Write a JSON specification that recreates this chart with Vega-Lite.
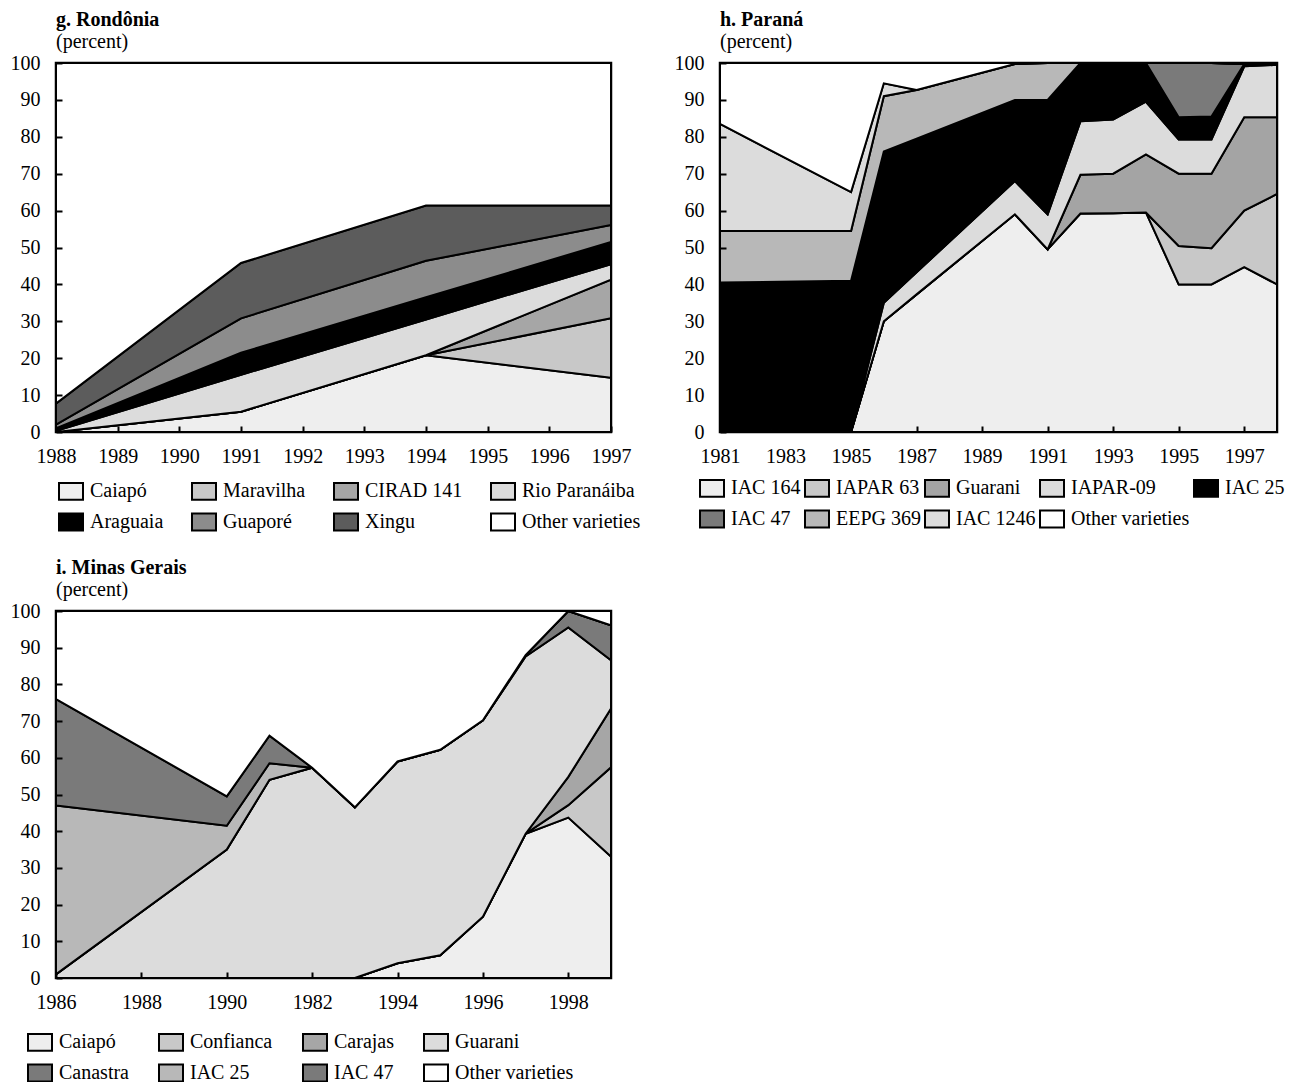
{
  "$schema": "https://vega.github.io/schema/vega-lite/v6.json",
  "padding": {"left": 8, "top": 8, "right": 0, "bottom": 0},
  "background": "white",
  "datasets": {
    "g": [
      {"t":1988,"v":"Caiapó","p":0,"o":1},{"t":1988,"v":"Maravilha","p":0,"o":2},{"t":1988,"v":"CIRAD 141","p":0,"o":3},{"t":1988,"v":"Rio Paranáiba","p":0.3,"o":4},{"t":1988,"v":"Araguaia","p":0.7,"o":5},{"t":1988,"v":"Guaporé","p":1,"o":6},{"t":1988,"v":"Xingu","p":5.7,"o":7},{"t":1988,"v":"Other varieties","p":92.3,"o":8},
      {"t":1991,"v":"Caiapó","p":5.5,"o":1},{"t":1991,"v":"Maravilha","p":0,"o":2},{"t":1991,"v":"CIRAD 141","p":0,"o":3},{"t":1991,"v":"Rio Paranáiba","p":10,"o":4},{"t":1991,"v":"Araguaia","p":6,"o":5},{"t":1991,"v":"Guaporé","p":9.3,"o":6},{"t":1991,"v":"Xingu","p":15,"o":7},{"t":1991,"v":"Other varieties","p":54.2,"o":8},
      {"t":1994,"v":"Caiapó","p":20.8,"o":1},{"t":1994,"v":"Maravilha","p":0,"o":2},{"t":1994,"v":"CIRAD 141","p":0,"o":3},{"t":1994,"v":"Rio Paranáiba","p":9.7,"o":4},{"t":1994,"v":"Araguaia","p":6,"o":5},{"t":1994,"v":"Guaporé","p":9.9,"o":6},{"t":1994,"v":"Xingu","p":15,"o":7},{"t":1994,"v":"Other varieties","p":38.6,"o":8},
      {"t":1997,"v":"Caiapó","p":14.7,"o":1},{"t":1997,"v":"Maravilha","p":16.1,"o":2},{"t":1997,"v":"CIRAD 141","p":10.5,"o":3},{"t":1997,"v":"Rio Paranáiba","p":4.2,"o":4},{"t":1997,"v":"Araguaia","p":6,"o":5},{"t":1997,"v":"Guaporé","p":4.6,"o":6},{"t":1997,"v":"Xingu","p":5.3,"o":7},{"t":1997,"v":"Other varieties","p":38.6,"o":8}
    ],
    "h": [
      {"t":1981,"v":"IAC 164","p":0,"o":1},{"t":1981,"v":"IAPAR 63","p":0,"o":2},{"t":1981,"v":"Guarani","p":0,"o":3},{"t":1981,"v":"IAPAR-09","p":0,"o":4},{"t":1981,"v":"IAC 25","p":40.5,"o":5},{"t":1981,"v":"IAC 47","p":0,"o":6},{"t":1981,"v":"EEPG 369","p":14,"o":7},{"t":1981,"v":"IAC 1246","p":29,"o":8},{"t":1981,"v":"Other varieties","p":16.5,"o":9},
      {"t":1985,"v":"IAC 164","p":0,"o":1},{"t":1985,"v":"IAPAR 63","p":0,"o":2},{"t":1985,"v":"Guarani","p":0,"o":3},{"t":1985,"v":"IAPAR-09","p":0,"o":4},{"t":1985,"v":"IAC 25","p":41,"o":5},{"t":1985,"v":"IAC 47","p":0,"o":6},{"t":1985,"v":"EEPG 369","p":13.5,"o":7},{"t":1985,"v":"IAC 1246","p":10.5,"o":8},{"t":1985,"v":"Other varieties","p":35,"o":9},
      {"t":1986,"v":"IAC 164","p":30,"o":1},{"t":1986,"v":"IAPAR 63","p":0,"o":2},{"t":1986,"v":"Guarani","p":0,"o":3},{"t":1986,"v":"IAPAR-09","p":5,"o":4},{"t":1986,"v":"IAC 25","p":41,"o":5},{"t":1986,"v":"IAC 47","p":0,"o":6},{"t":1986,"v":"EEPG 369","p":15,"o":7},{"t":1986,"v":"IAC 1246","p":3.5,"o":8},{"t":1986,"v":"Other varieties","p":5.5,"o":9},
      {"t":1987,"v":"IAC 164","p":37.3,"o":1},{"t":1987,"v":"IAPAR 63","p":0,"o":2},{"t":1987,"v":"Guarani","p":0,"o":3},{"t":1987,"v":"IAPAR-09","p":6,"o":4},{"t":1987,"v":"IAC 25","p":36.2,"o":5},{"t":1987,"v":"IAC 47","p":0,"o":6},{"t":1987,"v":"EEPG 369","p":13.2,"o":7},{"t":1987,"v":"IAC 1246","p":0,"o":8},{"t":1987,"v":"Other varieties","p":7.3,"o":9},
      {"t":1990,"v":"IAC 164","p":59,"o":1},{"t":1990,"v":"IAPAR 63","p":0,"o":2},{"t":1990,"v":"Guarani","p":0,"o":3},{"t":1990,"v":"IAPAR-09","p":9,"o":4},{"t":1990,"v":"IAC 25","p":22,"o":5},{"t":1990,"v":"IAC 47","p":0,"o":6},{"t":1990,"v":"EEPG 369","p":9.7,"o":7},{"t":1990,"v":"IAC 1246","p":0,"o":8},{"t":1990,"v":"Other varieties","p":0.3,"o":9},
      {"t":1991,"v":"IAC 164","p":49.5,"o":1},{"t":1991,"v":"IAPAR 63","p":0,"o":2},{"t":1991,"v":"Guarani","p":0,"o":3},{"t":1991,"v":"IAPAR-09","p":9.5,"o":4},{"t":1991,"v":"IAC 25","p":31,"o":5},{"t":1991,"v":"IAC 47","p":0,"o":6},{"t":1991,"v":"EEPG 369","p":10,"o":7},{"t":1991,"v":"IAC 1246","p":0,"o":8},{"t":1991,"v":"Other varieties","p":0,"o":9},
      {"t":1992,"v":"IAC 164","p":59.2,"o":1},{"t":1992,"v":"IAPAR 63","p":0,"o":2},{"t":1992,"v":"Guarani","p":10.5,"o":3},{"t":1992,"v":"IAPAR-09","p":14.5,"o":4},{"t":1992,"v":"IAC 25","p":15.8,"o":5},{"t":1992,"v":"IAC 47","p":0,"o":6},{"t":1992,"v":"EEPG 369","p":0,"o":7},{"t":1992,"v":"IAC 1246","p":0,"o":8},{"t":1992,"v":"Other varieties","p":0,"o":9},
      {"t":1993,"v":"IAC 164","p":59.3,"o":1},{"t":1993,"v":"IAPAR 63","p":0,"o":2},{"t":1993,"v":"Guarani","p":10.7,"o":3},{"t":1993,"v":"IAPAR-09","p":14.7,"o":4},{"t":1993,"v":"IAC 25","p":15.3,"o":5},{"t":1993,"v":"IAC 47","p":0,"o":6},{"t":1993,"v":"EEPG 369","p":0,"o":7},{"t":1993,"v":"IAC 1246","p":0,"o":8},{"t":1993,"v":"Other varieties","p":0,"o":9},
      {"t":1994,"v":"IAC 164","p":59.5,"o":1},{"t":1994,"v":"IAPAR 63","p":0,"o":2},{"t":1994,"v":"Guarani","p":15.7,"o":3},{"t":1994,"v":"IAPAR-09","p":14.3,"o":4},{"t":1994,"v":"IAC 25","p":10.5,"o":5},{"t":1994,"v":"IAC 47","p":0,"o":6},{"t":1994,"v":"EEPG 369","p":0,"o":7},{"t":1994,"v":"IAC 1246","p":0,"o":8},{"t":1994,"v":"Other varieties","p":0,"o":9},
      {"t":1995,"v":"IAC 164","p":40,"o":1},{"t":1995,"v":"IAPAR 63","p":10.4,"o":2},{"t":1995,"v":"Guarani","p":19.6,"o":3},{"t":1995,"v":"IAPAR-09","p":9.3,"o":4},{"t":1995,"v":"IAC 25","p":6,"o":5},{"t":1995,"v":"IAC 47","p":14.7,"o":6},{"t":1995,"v":"EEPG 369","p":0,"o":7},{"t":1995,"v":"IAC 1246","p":0,"o":8},{"t":1995,"v":"Other varieties","p":0,"o":9},
      {"t":1996,"v":"IAC 164","p":40,"o":1},{"t":1996,"v":"IAPAR 63","p":9.8,"o":2},{"t":1996,"v":"Guarani","p":20.2,"o":3},{"t":1996,"v":"IAPAR-09","p":9.3,"o":4},{"t":1996,"v":"IAC 25","p":6.2,"o":5},{"t":1996,"v":"IAC 47","p":14.5,"o":6},{"t":1996,"v":"EEPG 369","p":0,"o":7},{"t":1996,"v":"IAC 1246","p":0,"o":8},{"t":1996,"v":"Other varieties","p":0,"o":9},
      {"t":1997,"v":"IAC 164","p":44.7,"o":1},{"t":1997,"v":"IAPAR 63","p":15.3,"o":2},{"t":1997,"v":"Guarani","p":25.3,"o":3},{"t":1997,"v":"IAPAR-09","p":13.8,"o":4},{"t":1997,"v":"IAC 25","p":0.6,"o":5},{"t":1997,"v":"IAC 47","p":0,"o":6},{"t":1997,"v":"EEPG 369","p":0,"o":7},{"t":1997,"v":"IAC 1246","p":0,"o":8},{"t":1997,"v":"Other varieties","p":0.3,"o":9},
      {"t":1998,"v":"IAC 164","p":40,"o":1},{"t":1998,"v":"IAPAR 63","p":24.5,"o":2},{"t":1998,"v":"Guarani","p":20.8,"o":3},{"t":1998,"v":"IAPAR-09","p":14.2,"o":4},{"t":1998,"v":"IAC 25","p":0,"o":5},{"t":1998,"v":"IAC 47","p":0,"o":6},{"t":1998,"v":"EEPG 369","p":0,"o":7},{"t":1998,"v":"IAC 1246","p":0,"o":8},{"t":1998,"v":"Other varieties","p":0.5,"o":9}
    ],
    "i": [
      {"t":1986,"v":"Caiapó","p":0,"o":1},{"t":1986,"v":"Confianca","p":0,"o":2},{"t":1986,"v":"Carajas","p":0,"o":3},{"t":1986,"v":"Guarani","p":1,"o":4},{"t":1986,"v":"Canastra","p":0,"o":5},{"t":1986,"v":"IAC 25","p":46,"o":6},{"t":1986,"v":"IAC 47","p":29,"o":7},{"t":1986,"v":"Other varieties","p":24,"o":8},
      {"t":1990,"v":"Caiapó","p":0,"o":1},{"t":1990,"v":"Confianca","p":0,"o":2},{"t":1990,"v":"Carajas","p":0,"o":3},{"t":1990,"v":"Guarani","p":35,"o":4},{"t":1990,"v":"Canastra","p":0,"o":5},{"t":1990,"v":"IAC 25","p":6.5,"o":6},{"t":1990,"v":"IAC 47","p":8,"o":7},{"t":1990,"v":"Other varieties","p":50.5,"o":8},
      {"t":1991,"v":"Caiapó","p":0,"o":1},{"t":1991,"v":"Confianca","p":0,"o":2},{"t":1991,"v":"Carajas","p":0,"o":3},{"t":1991,"v":"Guarani","p":54,"o":4},{"t":1991,"v":"Canastra","p":0,"o":5},{"t":1991,"v":"IAC 25","p":4.5,"o":6},{"t":1991,"v":"IAC 47","p":7.5,"o":7},{"t":1991,"v":"Other varieties","p":34,"o":8},
      {"t":1992,"v":"Caiapó","p":0,"o":1},{"t":1992,"v":"Confianca","p":0,"o":2},{"t":1992,"v":"Carajas","p":0,"o":3},{"t":1992,"v":"Guarani","p":57.3,"o":4},{"t":1992,"v":"Canastra","p":0,"o":5},{"t":1992,"v":"IAC 25","p":0,"o":6},{"t":1992,"v":"IAC 47","p":0,"o":7},{"t":1992,"v":"Other varieties","p":42.7,"o":8},
      {"t":1993,"v":"Caiapó","p":0,"o":1},{"t":1993,"v":"Confianca","p":0,"o":2},{"t":1993,"v":"Carajas","p":0,"o":3},{"t":1993,"v":"Guarani","p":46.5,"o":4},{"t":1993,"v":"Canastra","p":0,"o":5},{"t":1993,"v":"IAC 25","p":0,"o":6},{"t":1993,"v":"IAC 47","p":0,"o":7},{"t":1993,"v":"Other varieties","p":53.5,"o":8},
      {"t":1994,"v":"Caiapó","p":4,"o":1},{"t":1994,"v":"Confianca","p":0,"o":2},{"t":1994,"v":"Carajas","p":0,"o":3},{"t":1994,"v":"Guarani","p":55,"o":4},{"t":1994,"v":"Canastra","p":0,"o":5},{"t":1994,"v":"IAC 25","p":0,"o":6},{"t":1994,"v":"IAC 47","p":0,"o":7},{"t":1994,"v":"Other varieties","p":41,"o":8},
      {"t":1995,"v":"Caiapó","p":6.2,"o":1},{"t":1995,"v":"Confianca","p":0,"o":2},{"t":1995,"v":"Carajas","p":0,"o":3},{"t":1995,"v":"Guarani","p":56,"o":4},{"t":1995,"v":"Canastra","p":0,"o":5},{"t":1995,"v":"IAC 25","p":0,"o":6},{"t":1995,"v":"IAC 47","p":0,"o":7},{"t":1995,"v":"Other varieties","p":37.8,"o":8},
      {"t":1996,"v":"Caiapó","p":16.7,"o":1},{"t":1996,"v":"Confianca","p":0,"o":2},{"t":1996,"v":"Carajas","p":0,"o":3},{"t":1996,"v":"Guarani","p":53.5,"o":4},{"t":1996,"v":"Canastra","p":0,"o":5},{"t":1996,"v":"IAC 25","p":0,"o":6},{"t":1996,"v":"IAC 47","p":0,"o":7},{"t":1996,"v":"Other varieties","p":29.8,"o":8},
      {"t":1997,"v":"Caiapó","p":39.3,"o":1},{"t":1997,"v":"Confianca","p":0,"o":2},{"t":1997,"v":"Carajas","p":0,"o":3},{"t":1997,"v":"Guarani","p":48.3,"o":4},{"t":1997,"v":"Canastra","p":0.4,"o":5},{"t":1997,"v":"IAC 25","p":0,"o":6},{"t":1997,"v":"IAC 47","p":0,"o":7},{"t":1997,"v":"Other varieties","p":12,"o":8},
      {"t":1998,"v":"Caiapó","p":43.7,"o":1},{"t":1998,"v":"Confianca","p":3.4,"o":2},{"t":1998,"v":"Carajas","p":7.7,"o":3},{"t":1998,"v":"Guarani","p":40.7,"o":4},{"t":1998,"v":"Canastra","p":4.5,"o":5},{"t":1998,"v":"IAC 25","p":0,"o":6},{"t":1998,"v":"IAC 47","p":0,"o":7},{"t":1998,"v":"Other varieties","p":0,"o":8},
      {"t":1999,"v":"Caiapó","p":33.1,"o":1},{"t":1999,"v":"Confianca","p":24.3,"o":2},{"t":1999,"v":"Carajas","p":16,"o":3},{"t":1999,"v":"Guarani","p":13.2,"o":4},{"t":1999,"v":"Canastra","p":9.5,"o":5},{"t":1999,"v":"IAC 25","p":0,"o":6},{"t":1999,"v":"IAC 47","p":0,"o":7},{"t":1999,"v":"Other varieties","p":3.9,"o":8}
    ]
  },
  "config": {
    "font": "Liberation Serif",
    "view": {"stroke": "black", "strokeWidth": 2.5},
    "axis": {"labelFont": "Liberation Serif", "labelFontSize": 20, "labelColor": "black", "domain": false, "ticks": true, "tickColor": "black", "tickWidth": 2, "tickSize": -6, "grid": false, "title": null, "labelFlush": false},
    "axisX": {"labelPadding": 20},
    "axisY": {"labelPadding": 22},
    "legend": {"labelFont": "Liberation Serif", "labelFontSize": 20, "labelColor": "black", "symbolType": "M-1,-0.7H1V0.7H-1Z", "symbolSize": 576, "symbolStrokeColor": "black", "symbolStrokeWidth": 2, "labelOffset": 6, "rowPadding": 5, "title": null, "orient": "none", "direction": "horizontal", "labelLimit": 300},
    "title": {"anchor": "start", "frame": "group", "font": "Liberation Serif", "fontSize": 20, "fontWeight": "bold", "color": "black", "subtitleFont": "Liberation Serif", "subtitleFontSize": 20, "subtitleColor": "black", "subtitlePadding": 2, "offset": 1}
  },
  "spacing": 19,
  "resolve": {"scale": {"color": "independent"}, "legend": {"color": "independent"}},
  "vconcat": [
    {
      "spacing": 29,
      "resolve": {"scale": {"color": "independent"}, "legend": {"color": "independent"}},
      "hconcat": [
        {
          "width": 555, "height": 369,
          "title": {"text": "g. Rondônia", "subtitle": "(percent)"},
          "data": {"name": "g"},
          "mark": {"type": "area", "stroke": "black", "strokeWidth": 2, "clip": true},
          "encoding": {
            "x": {"field": "t", "type": "quantitative", "scale": {"domain": [1988, 1997], "nice": false, "zero": false}, "axis": {"values": [1988,1989,1990,1991,1992,1993,1994,1995,1996,1997], "format": "d", "zindex": 1}},
            "y": {"field": "p", "type": "quantitative", "stack": "zero", "scale": {"domain": [0, 100], "nice": false}, "axis": {"values": [0,10,20,30,40,50,60,70,80,90,100], "zindex": 1}},
            "color": {"field": "v", "type": "nominal",
              "scale": {"domain": ["Caiapó","Maravilha","CIRAD 141","Rio Paranáiba","Araguaia","Guaporé","Xingu","Other varieties"], "range": ["#eeeeee","#c8c8c8","#a6a6a6","#dcdcdc","#000000","#8c8c8c","#5c5c5c","#ffffff"]},
              "legend": {"legendX": 2, "legendY": 415, "columns": 4, "gridAlign": "each", "columnPadding": 24}},
            "order": {"field": "o", "type": "quantitative"}
          }
        },
        {
          "width": 557, "height": 369,
          "title": {"text": "h. Paraná", "subtitle": "(percent)"},
          "data": {"name": "h"},
          "mark": {"type": "area", "stroke": "black", "strokeWidth": 2, "clip": true},
          "encoding": {
            "x": {"field": "t", "type": "quantitative", "scale": {"domain": [1981, 1998], "nice": false, "zero": false}, "axis": {"values": [1981,1983,1985,1987,1989,1991,1993,1995,1997], "format": "d", "zindex": 1}},
            "y": {"field": "p", "type": "quantitative", "stack": "zero", "scale": {"domain": [0, 100], "nice": false}, "axis": {"values": [0,10,20,30,40,50,60,70,80,90,100], "zindex": 1}},
            "color": {"field": "v", "type": "nominal",
              "scale": {"domain": ["IAC 164","IAPAR 63","Guarani","IAPAR-09","IAC 25","IAC 47","EEPG 369","IAC 1246","Other varieties"], "range": ["#eeeeee","#c8c8c8","#a4a4a4","#dcdcdc","#000000","#7a7a7a","#b8b8b8","#dcdcdc","#ffffff"]},
              "legend": {"legendX": -21, "legendY": 412, "columns": 5, "gridAlign": "each", "columnPadding": 0}},
            "order": {"field": "o", "type": "quantitative"}
          }
        }
      ]
    },
    {
      "width": 555, "height": 367,
      "title": {"text": "i. Minas Gerais", "subtitle": "(percent)"},
      "data": {"name": "i"},
      "mark": {"type": "area", "stroke": "black", "strokeWidth": 2, "clip": true},
      "encoding": {
        "x": {"field": "t", "type": "quantitative", "scale": {"domain": [1986, 1999], "nice": false, "zero": false}, "axis": {"values": [1986,1988,1990,1992,1994,1996,1998], "format": "d", "labelExpr": "datum.value == 1992 ? '1982' : datum.label", "zindex": 1}},
        "y": {"field": "p", "type": "quantitative", "stack": "zero", "scale": {"domain": [0, 100], "nice": false}, "axis": {"values": [0,10,20,30,40,50,60,70,80,90,100], "zindex": 1}},
        "color": {"field": "v", "type": "nominal",
          "scale": {"domain": ["Caiapó","Confianca","Carajas","Guarani","Canastra","IAC 25","IAC 47","Other varieties"], "range": ["#eeeeee","#c8c8c8","#a6a6a6","#dcdcdc","#7a7a7a","#b8b8b8","#7a7a7a","#ffffff"]},
          "legend": {"legendX": -29, "legendY": 418, "columns": 4, "gridAlign": "each", "columnPadding": 26}},
        "order": {"field": "o", "type": "quantitative"}
      }
    }
  ]
}
